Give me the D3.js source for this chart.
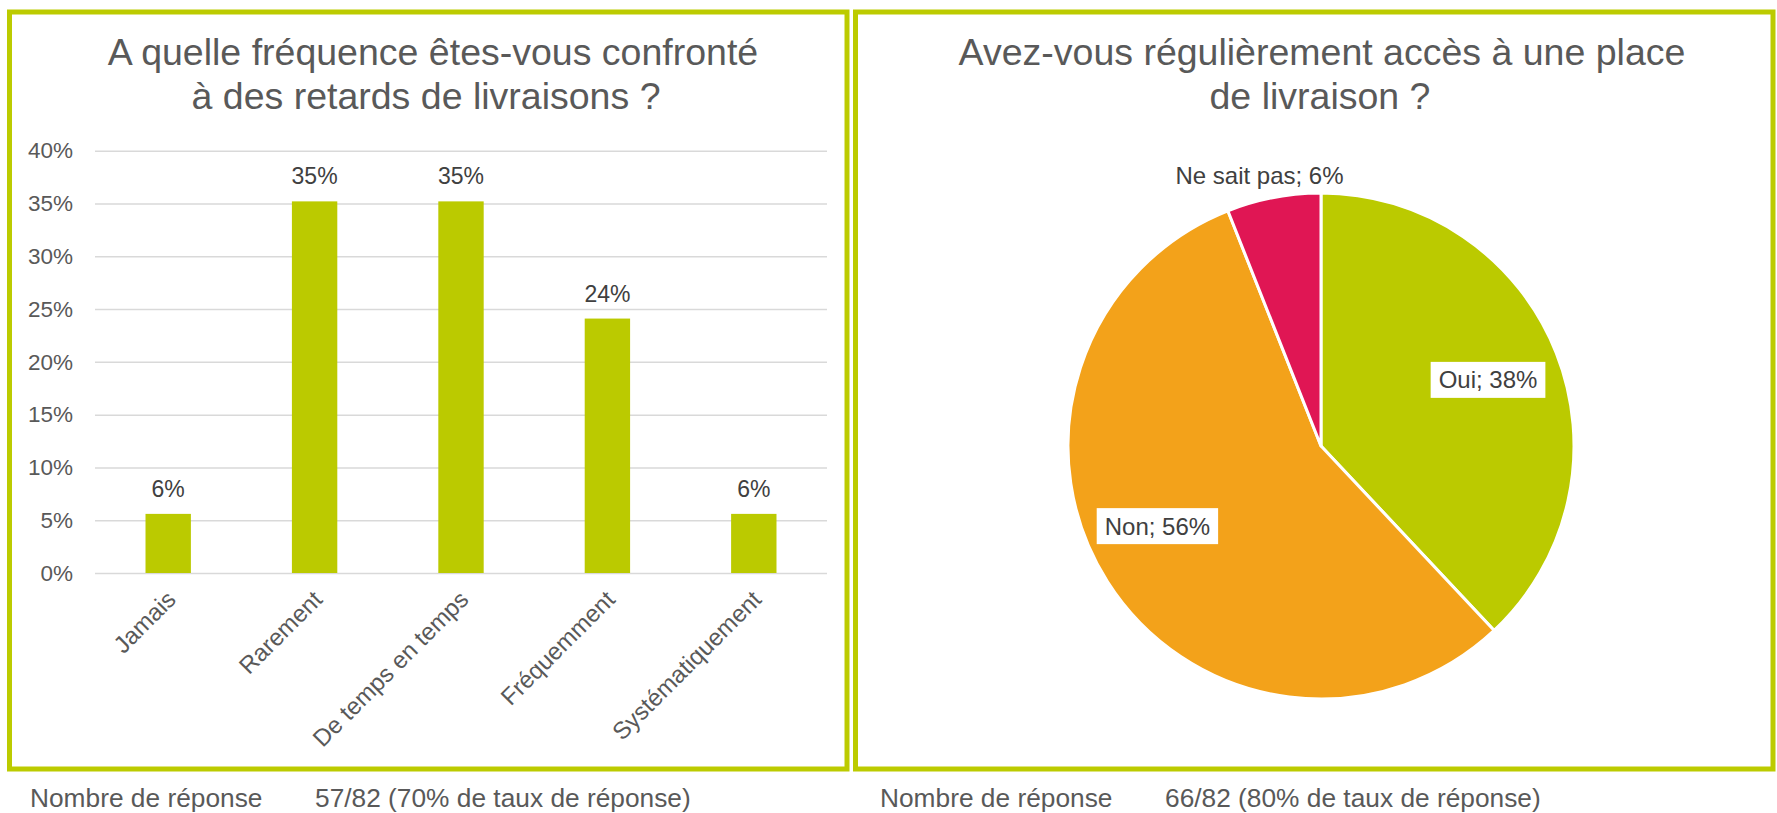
<!DOCTYPE html>
<html>
<head>
<meta charset="utf-8">
<script src="https://cdn.jsdelivr.net/npm/d3@7"></script>
<style>
  body { margin: 0; background: #fff; }
  text { font-family: "Liberation Sans", Arial, sans-serif; }
</style>
</head>
<body>
<div id="root"></div>
<script>
// data
const categories = ["Jamais", "Rarement", "De temps en temps", "Fréquemment", "Systématiquement"];
const delayValues = [0.056, 0.352, 0.352, 0.241, 0.056];
const yTicks = [0, 0.05, 0.10, 0.15, 0.20, 0.25, 0.30, 0.35, 0.40];

const pieLabels = ["Oui", "Non", "Ne sait pas"];
const pieValues = [0.38, 0.56, 0.06];
const pieColors = ["#bbca00", "#f3a21a", "#e01654"];

const leftTitle = ["A quelle fréquence êtes-vous confronté", "à des retards de livraisons ?"];
const rightTitle = ["Avez-vous régulièrement accès à une place", "de livraison ?"];
const footerLeft = ["Nombre de réponse", "57/82 (70% de taux de réponse)"];
const footerRight = ["Nombre de réponse", "66/82 (80% de taux de réponse)"];

const W = 1777, H = 813;
const green = "#bccb00";

const svg = d3.select("#root").append("svg")
  .attr("width", W).attr("height", H);

// panel frames
svg.append("rect").attr("x", 9.5).attr("y", 12).attr("width", 837.5).attr("height", 757)
  .attr("fill", "none").attr("stroke", green).attr("stroke-width", 5);
svg.append("rect").attr("x", 855.5).attr("y", 12).attr("width", 917.5).attr("height", 757)
  .attr("fill", "none").attr("stroke", green).attr("stroke-width", 5);

// titles (each line centred on its own x, like the original text box)
const drawTitle = function(lines, xs) {
  svg.append("text").attr("text-anchor", "middle").attr("fill", "#595959").attr("font-size", 37.5)
    .selectAll("tspan").data(lines).enter().append("tspan")
      .attr("x", (d, i) => xs[i]).attr("y", (d, i) => 65 + i * 44).text(d => d);
};
drawTitle(leftTitle, [433, 426]);
drawTitle(rightTitle, [1322, 1320]);

// ---- bar chart ----
const plotLeft = 95, plotRight = 827, plotBottom = 573, plotTop = 150.7;
const xScale = d3.scaleBand().domain(categories).range([plotLeft, plotRight]).paddingInner(0.69).paddingOuter(0.345);
const yScale = d3.scaleLinear().domain([0, 0.4]).range([plotBottom, plotTop]);

const yAxis = svg.append("g").attr("transform", "translate(" + plotLeft + ",0)")
  .call(d3.axisLeft(yScale).tickValues(yTicks).tickFormat(d3.format(".0%"))
    .tickSize(-(plotRight - plotLeft)).tickPadding(22));
yAxis.select(".domain").remove();
yAxis.selectAll("line").attr("stroke", "#d9d9d9").attr("stroke-width", 1.5);
yAxis.selectAll("text").attr("font-size", 22.5).attr("fill", "#595959")
  .style("font-family", "'Liberation Sans', Arial, sans-serif");

svg.selectAll(".bar").data(delayValues).enter().append("rect").attr("class", "bar")
  .attr("x", (d, i) => xScale(categories[i])).attr("width", xScale.bandwidth())
  .attr("y", d => yScale(d)).attr("height", d => plotBottom - yScale(d))
  .attr("fill", "#bbca00");

svg.selectAll(".valLabel").data(delayValues).enter().append("text").attr("class", "valLabel")
  .attr("x", (d, i) => xScale(categories[i]) + xScale.bandwidth() / 2)
  .attr("y", d => yScale(d) - 17)
  .attr("text-anchor", "middle").attr("font-size", 23).attr("fill", "#404040")
  .text(d => d3.format(".0%")(d));

svg.selectAll(".catLabel").data(categories).enter().append("text").attr("class", "catLabel")
  .attr("transform", d => "translate(" + (xScale(d) + xScale.bandwidth() / 2 + 9) + "," + 601 + ") rotate(-45)")
  .attr("text-anchor", "end").attr("font-size", 24).attr("fill", "#595959")
  .text(d => d);

// ---- pie chart ----
const cx = 1321, cy = 446, radius = 253;
const pie = d3.pie().sort(null).value(d => d);
const arcs = pie(pieValues);
const arc = d3.arc().innerRadius(0).outerRadius(radius);
const outerArc = d3.arc().innerRadius(radius + 22).outerRadius(radius + 22);
// label placement inside slices: radius fraction and angle nudge (radians)
const labelPlace = [[0.71, 0], [0.72, 0.11], [0, 0]];

const pieG = svg.append("g").attr("transform", "translate(" + cx + "," + cy + ")");
pieG.selectAll("path").data(arcs).enter().append("path")
  .attr("d", arc).attr("fill", (d, i) => pieColors[i])
  .attr("stroke", "#fff").attr("stroke-width", 3).attr("stroke-linejoin", "round");

arcs.forEach(function(a, i) {
  const txt = pieLabels[i] + "; " + d3.format(".0%")(pieValues[i]);
  if (pieValues[i] > 0.1) {
    const mid = (a.startAngle + a.endAngle) / 2 + labelPlace[i][1];
    const rr = radius * labelPlace[i][0];
    const lx = rr * Math.sin(mid), ly = -rr * Math.cos(mid);
    const g = pieG.append("g").attr("transform", "translate(" + lx + "," + ly + ")");
    const t = g.append("text").attr("text-anchor", "middle").attr("dy", "0.35em")
      .attr("font-size", 24).attr("fill", "#404040").text(txt);
    const bb = t.node().getBBox();
    g.insert("rect", "text").attr("x", bb.x - 8).attr("y", -18).attr("width", bb.width + 16).attr("height", 36)
      .attr("fill", "#fff");
  } else {
    const [ox, oy] = outerArc.centroid(a);
    pieG.append("text").attr("x", ox - 10).attr("y", oy).attr("dy", "0.35em")
      .attr("text-anchor", "middle").attr("font-size", 24).attr("fill", "#404040").text(txt);
  }
});

// footers
const drawFooter = function(parts, x1, x2) {
  svg.append("text").attr("x", x1).attr("y", 807).attr("font-size", 26.3).attr("fill", "#595959").text(parts[0]);
  svg.append("text").attr("x", x2).attr("y", 807).attr("font-size", 26.3).attr("fill", "#595959").text(parts[1]);
};
drawFooter(footerLeft, 30, 315);
drawFooter(footerRight, 880, 1165);
</script>
</body>
</html>
